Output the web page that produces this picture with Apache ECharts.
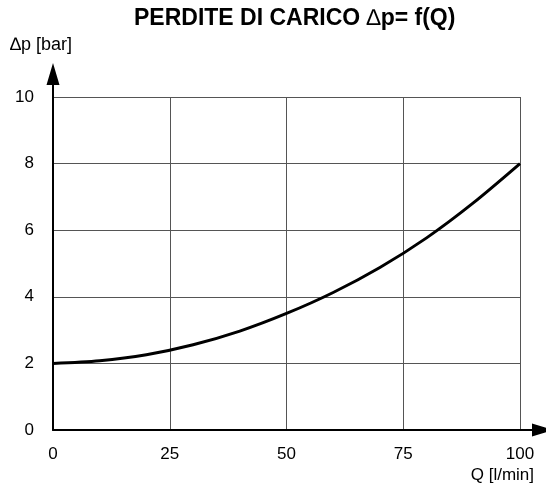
<!DOCTYPE html>
<html>
<head>
<meta charset="utf-8">
<script src="https://cdn.jsdelivr.net/npm/echarts@6/dist/echarts.min.js"></script>
<style>
  html, body { margin: 0; padding: 0; background: #fff; }
  #chart { width: 546px; height: 490px; }
</style>
</head>
<body>
<div id="chart"></div>
<script>
// pressure drop curve

const flowQ = [0, 10, 20, 30, 40, 50, 60, 70, 80, 90, 100];
const pressureDrop = [2.0, 2.08, 2.26, 2.56, 2.97, 3.5, 4.13, 4.88, 5.77, 6.82, 8.0];
const xTicks = [0, 25, 50, 75, 100];
const yTicks = [0, 2, 4, 6, 8, 10];

const font = 'Liberation Sans, Arial, sans-serif';

// arrow with a stem, pointing up in its own box
const arrowPath = 'path://M6.5,0 L13,22 L7.5,22 L7.5,34 L5.5,34 L5.5,22 L0,22 Z';

const myChart = echarts.init(document.getElementById('chart'));

const option = {
    animation: false,
    title: {
        text: '{b|PERDITE DI CARICO }{d|\u2206}{b|p= f(Q)}',
        left: 134,
        top: 7,
        padding: 0,
        textStyle: {
            rich: {
                b: { fontFamily: font, fontSize: 23, fontWeight: 'bold', color: '#000' },
                d: { fontFamily: font, fontSize: 23, fontWeight: 'normal', color: '#000' }
            }
        }
    },
    grid: { left: 53, right: 26, top: 97, bottom: 60 },
    xAxis: {
        type: 'value',
        min: xTicks[0],
        max: xTicks[xTicks.length - 1],
        interval: 25,
        name: 'Q [l/min]',
        nameLocation: 'end',
        nameGap: 14,
        nameTextStyle: {
            fontFamily: font, fontSize: 17, color: '#000',
            align: 'right', verticalAlign: 'top', padding: [37, 0, 0, 0]
        },
        axisLine: {
            lineStyle: { color: '#000', width: 2 },
            symbol: ['none', arrowPath],
            symbolSize: [13, 34],
            symbolOffset: [0, 17]
        },
        axisTick: { show: false },
        axisLabel: { fontFamily: font, fontSize: 17, color: '#000', margin: 16 },
        splitLine: { lineStyle: { color: '#555', width: 1 } }
    },
    yAxis: {
        type: 'value',
        min: yTicks[0],
        max: yTicks[yTicks.length - 1],
        interval: 2,
        name: '\u2206p [bar]',
        nameLocation: 'end',
        nameGap: 43,
        nameTextStyle: { fontFamily: font, fontSize: 18, color: '#000', padding: [0, 24, 0, 0] },
        axisLine: {
            lineStyle: { color: '#000', width: 2 },
            symbol: ['none', arrowPath],
            symbolSize: [13, 34],
            symbolOffset: [0, 17]
        },
        axisTick: { show: false },
        axisLabel: { fontFamily: font, fontSize: 17, color: '#000', margin: 19 },
        splitLine: { lineStyle: { color: '#555', width: 1 } }
    },
    series: [
        {
            type: 'line',
            data: flowQ.map(function (q, i) { return [q, pressureDrop[i]]; }),
            smooth: 0.3,
            symbol: 'none',
            lineStyle: { color: '#000', width: 3 }
        }
    ]
};

myChart.setOption(option);

window.addEventListener('resize', function() {
    myChart.resize();
});
</script>
</body>
</html>
